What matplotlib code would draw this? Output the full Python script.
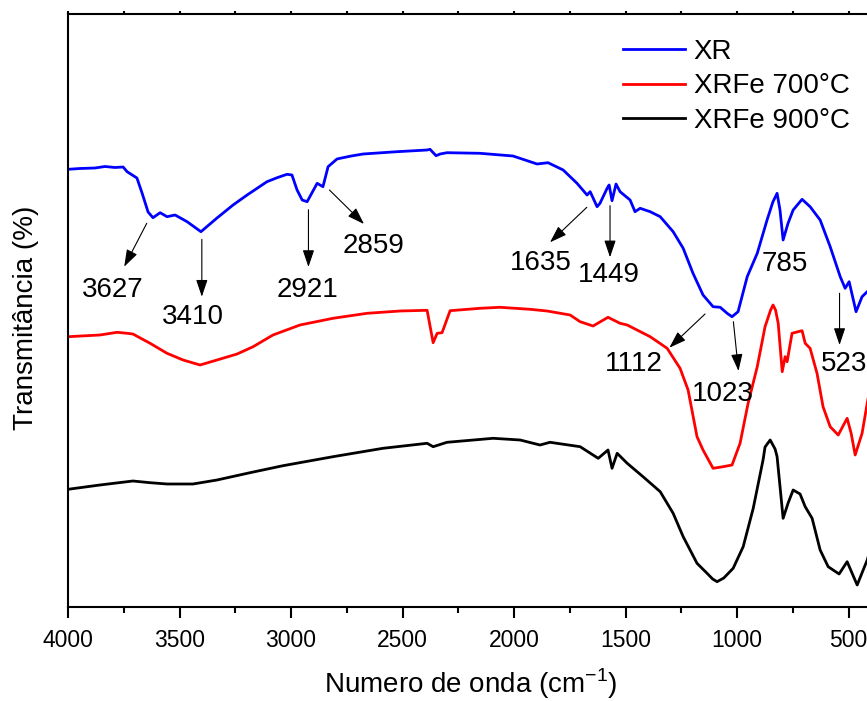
import matplotlib
matplotlib.use("Agg")
import matplotlib.pyplot as plt
from matplotlib.ticker import MultipleLocator

plt.rcParams['font.family'] = ['Liberation Sans', 'DejaVu Sans']

# FTIR spectra, wavenumber (cm-1) vs transmittance (arbitrary units, offset per sample)
xr_wn = [4000, 3946, 3879, 3834, 3789, 3753, 3735, 3691, 3668, 3641, 3619, 3587, 3556,
         3520, 3466, 3404, 3332, 3260, 3197, 3108, 3060, 3018, 2996, 2973, 2950, 2928,
         2883, 2857, 2834, 2794, 2780, 2730, 2677, 2525, 2390, 2377, 2350, 2332, 2301,
         2153, 2005, 1897, 1848, 1780, 1718, 1673, 1659, 1628, 1615, 1583, 1574, 1561,
         1543, 1525, 1480, 1458, 1435, 1390, 1345, 1287, 1242, 1198, 1153, 1108, 1076,
         1045, 1023, 996, 955, 910, 866, 840, 821, 808, 794, 772, 749, 709, 673, 628,
         583, 538, 516, 498, 467, 440, 417, 400]
xr_t = [437.7, 438.5, 439, 440.5, 439.5, 440, 435.3, 429, 414, 395, 389.3, 394.3, 390.3,
        392, 385.3, 375.3, 389, 402, 412, 425.3, 429.5, 432.7, 432, 417, 407, 405.3,
        423.7, 420.3, 440.3, 448, 448.7, 451, 453, 455.3, 457, 457.7, 451.3, 453, 454.3,
        453.7, 451, 443, 444.3, 437, 423.7, 412, 415.3, 400.3, 403.7, 418.7, 422, 406.3,
        423, 415.3, 407, 395.3, 398.7, 395.3, 390.3, 375.3, 358.7, 333.7, 312, 300.3,
        299.7, 293.7, 290.3, 295.3, 330.3, 353.7, 387, 405, 413.7, 397, 367, 383.7, 397,
        407.7, 400.3, 387, 360.3, 330.3, 318.7, 325.3, 295.3, 310.3, 315.3, 318]

fe700_wn = [4000, 3857, 3780, 3735, 3709, 3632, 3556, 3484, 3408, 3332, 3242, 3170, 3081,
            2960, 2812, 2659, 2511, 2390, 2363, 2345, 2323, 2287, 2153, 2063, 1928, 1852,
            1749, 1704, 1646, 1579, 1525, 1493, 1390, 1314, 1256, 1220, 1180, 1153, 1108,
            1063, 1023, 987, 951, 910, 875, 850, 839, 828, 816, 798, 785, 776, 754, 727,
            709, 695, 673, 642, 615, 583, 547, 507, 489, 471, 440, 417, 400]
fe700_t = [270.3, 272, 274.7, 273.7, 273, 263.7, 253.7, 247, 242, 247, 253, 260.3, 272,
           282, 288.7, 293.7, 296, 296.7, 264.3, 273.7, 274.3, 296.3, 298.7, 299.7, 297.7,
           296, 292, 285.3, 281, 289.7, 283.7, 282, 270.3, 258.7, 238.7, 217, 170.3, 157,
           138.7, 140.3, 142, 163.7, 203.7, 240.3, 280.3, 297, 302, 297, 283.7, 235.3,
           250.3, 245.3, 273.7, 275.3, 276.3, 263.7, 258.7, 233.7, 200.3, 180.3, 172,
           188.7, 173.7, 152, 173.7, 203.7, 225]

fe900_wn = [4000, 3857, 3709, 3632, 3556, 3440, 3332, 3184, 3036, 2812, 2588, 2390, 2363,
            2301, 2094, 1973, 1884, 1839, 1704, 1623, 1579, 1561, 1538, 1493, 1422, 1345,
            1287, 1242, 1180, 1135, 1110, 1090, 1060, 1018, 973, 928, 884, 875, 852, 830,
            821, 794, 772, 749, 718, 695, 664, 628, 592, 543, 507, 462, 417, 400]
fe900_t = [117.7, 122, 126, 124.3, 123, 123, 127, 134.3, 141.3, 150.3, 158.7, 163.7, 160.3,
           164.7, 168.7, 167, 162, 164.7, 160.3, 148.7, 157, 138.7, 153.7, 143.7, 130.3,
           115.3, 93.7, 70.3, 43.7, 33.7, 28, 25.3, 29, 38.7, 60.3, 98.7, 147, 160, 167,
           158, 150.3, 88.7, 103.7, 117, 113, 100.3, 88.7, 57, 40.3, 33, 45.3, 22, 47, 60]

series_labels = ['XR', 'XRFe 700°C', 'XRFe 900°C']

# band assignments marked on the XR spectrum
band_labels = ['3627', '3410', '2921', '2859', '1635', '1449', '1112', '1023', '523']
arrow_from = [(3647, 383.7), (3400, 367.7), (2922, 397.3), (2828, 417), (1674, 399.7),
              (1570, 401.3), (1144, 293), (1017, 285.3), (541, 313.7)]
arrow_to = [(3748, 340.3), (3400, 310.3), (2922, 340), (2673, 383), (1839, 364.7),
            (1570, 349.7), (1304, 259.3), (994, 236), (541, 262)]
label_at = [(3798, 317), (3440, 290.3), (2926, 317), (2632, 361.2), (1880, 344.5),
            (1574, 332.5), (1462, 242.8), (1064, 212.8), (522, 243)]

fig = plt.figure(figsize=(8.67, 7.01), dpi=100)
# right edge of the frame runs just past the figure border
ax = fig.add_axes([68 / 867, 94 / 701, 803 / 867, 593 / 701])

ax.plot(xr_wn, xr_t, color='#0000ff', lw=2, label=series_labels[0])
ax.plot(fe700_wn, fe700_t, color='#ff0000', lw=2, label=series_labels[1])
ax.plot(fe900_wn, fe900_t, color='black', lw=2, label=series_labels[2])

for lab, a, b, t in zip(band_labels, arrow_from, arrow_to, label_at):
    ax.annotate('', xy=b, xytext=a,
                arrowprops=dict(arrowstyle='-|>,head_length=0.65,head_width=0.22',
                                color='black', lw=0.8, mutation_scale=16,
                                shrinkA=0, shrinkB=0))
    ax.text(t[0], t[1], lab, fontsize=20, ha='center', va='center')
ax.text(785, 342.8, '785', fontsize=20, ha='center', va='center')

ax.set_xlim(4000, 400)
ax.set_ylim(0, 593)
ax.xaxis.set_major_locator(MultipleLocator(500))
ax.xaxis.set_minor_locator(MultipleLocator(250))
ax.tick_params(axis='x', which='major', direction='out', length=8, width=1.5,
               labelsize=16.5, pad=8)
ax.tick_params(axis='x', which='minor', direction='out', length=4.5, width=1.5)
ax.tick_params(axis='x', which='both', top=True, labeltop=False)
ax.tick_params(left=False, labelleft=False)
for s in ax.spines.values():
    s.set_linewidth(1.5)

# top ticks are only short stubs
for t in ax.xaxis.get_major_ticks() + ax.xaxis.get_minor_ticks():
    t.tick2line.set_markersize(2)

fig.text(33 / 867, 1 - 318 / 701, 'Transmitância (%)', rotation=90,
         rotation_mode='anchor', fontsize=20, ha='center', va='baseline')
fig.text(471 / 867, 1 - 693 / 701, 'Numero de onda (cm$^{\\mathregular{-1}}$)',
         fontsize=20, ha='center', va='baseline')

ax.legend(loc='upper left', bbox_to_anchor=(0.691, 0.958), frameon=False,
          fontsize=20, handlelength=2.25, handletextpad=0.3, labelspacing=0.3,
          borderpad=0, borderaxespad=0)

fig.savefig('out.png', dpi=100)
